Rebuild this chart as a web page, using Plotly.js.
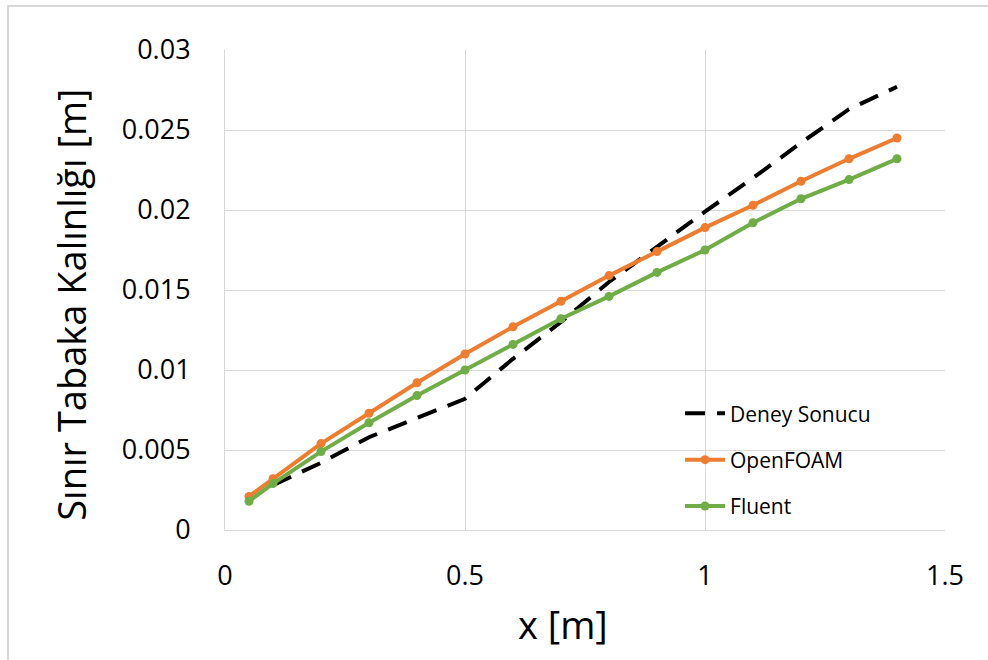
<!DOCTYPE html>
<html>
<head>
<meta charset="utf-8">
<script src="https://cdn.plot.ly/plotly-3.0.1.min.js"></script>
<style>
  html, body { margin: 0; padding: 0; background: #fff; }
  #frame { position: absolute; left: 7px; top: 5px; width: 990px; height: 670px;
           border-left: 2px solid #d9d9d9; border-top: 2px solid #d9d9d9; pointer-events: none; }
  #chart { width: 988px; height: 660px; }
</style>
</head>
<body>
<div id="chart"></div>
<div id="frame"></div>
<script>
// Boundary-layer thickness along the plate
const xModel = [0.05, 0.1, 0.2, 0.3, 0.4, 0.5, 0.6, 0.7, 0.8, 0.9, 1.0, 1.1, 1.2, 1.3, 1.4];
const openFoam = [0.0021, 0.0032, 0.0054, 0.0073, 0.0092, 0.0110, 0.0127, 0.0143, 0.0159, 0.0174, 0.0189, 0.0203, 0.0218, 0.0232, 0.0245];
const fluent = [0.0018, 0.0029, 0.0049, 0.0067, 0.0084, 0.0100, 0.0116, 0.0132, 0.0146, 0.0161, 0.0175, 0.0192, 0.0207, 0.0219, 0.0232];

const xExp = [0.1, 0.2, 0.3, 0.4, 0.5, 0.6, 0.7, 0.8, 0.9, 1.0, 1.1, 1.2, 1.3, 1.4];
const deney = [0.0028, 0.0042, 0.0058, 0.0070, 0.0082, 0.0107, 0.0130, 0.0155, 0.0177, 0.0199, 0.0220, 0.0242, 0.0263, 0.0277];

const xTicks = [0, 0.5, 1, 1.5];
const yTicks = [0, 0.005, 0.01, 0.015, 0.02, 0.025, 0.03];

const xTitle = 'x [m]';
const yTitle = 'Sınır Tabaka Kalınlığı [m]';

const FONT = '"Open Sans", sans-serif';

const traces = [
  {
    x: xExp, y: deney, name: 'Deney Sonucu', legendgroup: 'a', type: 'scatter', mode: 'lines',
    line: { color: '#000000', width: 4, dash: '20px,12px' }
  },
  {
    x: xModel, y: openFoam, name: 'OpenFOAM', legendgroup: 'b', type: 'scatter', mode: 'lines+markers',
    line: { color: '#ED7D31', width: 4 },
    marker: { color: '#ED7D31', size: 9 }
  },
  {
    x: xModel, y: fluent, name: 'Fluent', legendgroup: 'c', type: 'scatter', mode: 'lines+markers',
    line: { color: '#70AD47', width: 4 },
    marker: { color: '#70AD47', size: 9 }
  }
];

const layout = {
  width: 988, height: 660,
  margin: { l: 225, r: 43, t: 50, b: 130 },
  paper_bgcolor: '#ffffff', plot_bgcolor: '#ffffff',
  font: { family: FONT, color: '#000000', size: 28 },
  showlegend: true,
  legend: {
    x: 0.632, y: 0.285, xanchor: 'left', yanchor: 'top',
    bgcolor: 'rgba(0,0,0,0)', borderwidth: 0,
    font: { family: FONT, size: 21, color: '#000' },
    traceorder: 'grouped', tracegroupgap: 16, itemwidth: 40
  },
  xaxis: {
    range: [0, 1.5], tickvals: xTicks, ticktext: xTicks.map(String),
    showgrid: true, gridcolor: '#d9d9d9', gridwidth: 1,
    zeroline: false, showline: true, linecolor: '#d9d9d9', linewidth: 1, mirror: false,
    ticks: '', ticklabelstandoff: 22,
    tickfont: { family: FONT, size: 27 }
  },
  yaxis: {
    range: [0, 0.03], tickvals: yTicks, ticktext: yTicks.map(String),
    showgrid: true, gridcolor: '#d9d9d9', gridwidth: 1,
    zeroline: false, showline: true, linecolor: '#d9d9d9', linewidth: 1,
    ticks: '', ticklabelstandoff: 28,
    tickfont: { family: FONT, size: 27 }
  },
  // Axis titles placed as annotations so they can sit off-centre like the chart's own titles
  annotations: [
    {
      text: xTitle, xref: 'paper', yref: 'paper', x: 0.469, y: -0.196,
      xanchor: 'center', yanchor: 'middle', showarrow: false,
      font: { family: FONT, size: 38, color: '#000' }
    },
    {
      text: yTitle, xref: 'paper', yref: 'paper', x: -0.214, y: 0.469,
      xanchor: 'center', yanchor: 'middle', showarrow: false, textangle: -90,
      font: { family: FONT, size: 38, color: '#000' }
    }
  ]
};

Plotly.newPlot('chart', traces, layout, { displayModeBar: false, staticPlot: true });
</script>
</body>
</html>
